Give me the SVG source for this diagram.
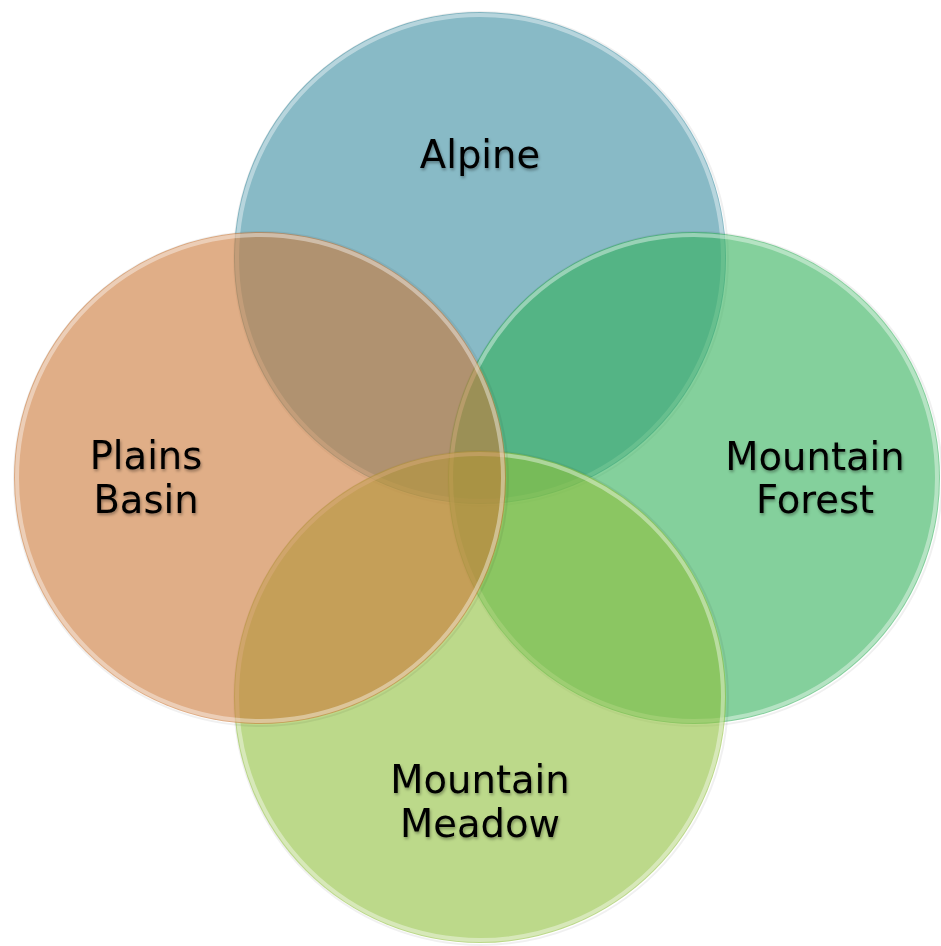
<svg xmlns="http://www.w3.org/2000/svg" width="941" height="946" viewBox="0 0 941 946">
  <defs>
    <style>
      .c { fill-opacity: 0.6; }
      .rim { fill: none; stroke: #ffffff; stroke-opacity: 0.4; stroke-width: 4; }
      .edge { fill: none; stroke: #000000; stroke-opacity: 0.06; stroke-width: 2; }
      .lbl { font-family: "DejaVu Sans", Verdana, sans-serif; font-size: 38.5px; fill: #000; text-anchor: middle; filter: url(#ts); }
    </style>
    <filter id="ts" x="-10%" y="-30%" width="120%" height="160%">
      <feDropShadow dx="1" dy="2" stdDeviation="1.5" flood-color="#000" flood-opacity="0.35"/>
    </filter>
  </defs>
  <rect width="941" height="946" fill="#ffffff"/>

  <g id="alpine">
    <circle class="edge" cx="481" cy="259" r="247"/>
    <circle class="c" cx="480" cy="258" r="246" fill="#398ca0"/>
    <circle class="rim" cx="480" cy="258" r="243"/>
  </g>
  <g id="mountain-forest">
    <circle class="edge" cx="695" cy="479" r="247"/>
    <circle class="c" cx="694" cy="478" r="246" fill="#32b15a"/>
    <circle class="rim" cx="694" cy="478" r="243"/>
  </g>
  <g id="mountain-meadow">
    <circle class="edge" cx="481" cy="698" r="247"/>
    <circle class="c" cx="480" cy="697" r="246" fill="#8fc03c"/>
    <circle class="rim" cx="480" cy="697" r="243"/>
  </g>
  <g id="plains-basin">
    <circle class="edge" cx="261" cy="479" r="247"/>
    <circle class="c" cx="260" cy="478" r="246" fill="#cb7837"/>
    <circle class="rim" cx="260" cy="478" r="243"/>
  </g>

  <g id="labels">
    <text class="lbl" x="480" y="168">Alpine</text>
    <text class="lbl" x="146" y="469">Plains</text>
    <text class="lbl" x="146" y="513">Basin</text>
    <text class="lbl" x="815" y="470">Mountain</text>
    <text class="lbl" x="815" y="513">Forest</text>
    <text class="lbl" x="480" y="793">Mountain</text>
    <text class="lbl" x="480" y="837">Meadow</text>
  </g>
</svg>
